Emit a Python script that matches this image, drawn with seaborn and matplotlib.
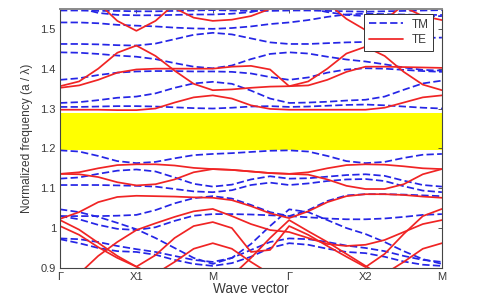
import matplotlib
matplotlib.use("Agg")
import matplotlib.pyplot as plt
import seaborn as sns
import pandas as pd

# ---------------- data ----------------
k_pts = [0, 0.25, 0.5, 0.75, 1, 1.25, 1.5, 1.75, 2, 2.25, 2.5, 2.75,
         3, 3.25, 3.5, 3.75, 4, 4.25, 4.5, 4.75, 5]
tick_pos = [0, 1, 2, 3, 4, 5]
tick_labels = ["Γ", "X1", "M", "Γ", "X2", "M"]
y_ticks = [0.9, 1.0, 1.1, 1.2, 1.3, 1.4, 1.5]
y_tick_labels = ["0.9", "1", "1.1", "1.2", "1.3", "1.4", "1.5"]
gap_lo, gap_hi = 1.197, 1.29

tm01 = [1.546,1.546,1.545,1.545,1.544,1.544,1.545,1.546,1.547,1.546,1.545,1.545,1.546,1.546,1.545,1.544,1.543,1.544,1.545,1.546,1.547]
tm02 = [1.516,1.516,1.514,1.510,1.508,1.506,1.503,1.501,1.500,1.502,1.506,1.512,1.516,1.522,1.530,1.536,1.538,1.537,1.536,1.535,1.535]
tm03 = [1.562,1.552,1.540,1.535,1.534,1.534,1.535,1.536,1.536,1.538,1.542,1.552,1.562,1.552,1.542,1.535,1.532,1.531,1.530,1.531,1.532]
tm04 = [1.462,1.462,1.461,1.459,1.458,1.463,1.474,1.485,1.490,1.486,1.476,1.466,1.462,1.462,1.464,1.466,1.467,1.470,1.474,1.477,1.478]
tm05 = [1.441,1.440,1.437,1.433,1.430,1.424,1.414,1.405,1.401,1.408,1.424,1.437,1.441,1.438,1.430,1.423,1.418,1.411,1.403,1.397,1.395]
tm06 = [1.372,1.376,1.384,1.390,1.393,1.394,1.394,1.393,1.393,1.392,1.388,1.379,1.372,1.378,1.390,1.398,1.401,1.400,1.397,1.394,1.392]
tm07 = [1.314,1.316,1.321,1.327,1.330,1.338,1.352,1.363,1.367,1.362,1.345,1.325,1.314,1.315,1.317,1.320,1.322,1.330,1.347,1.363,1.370]
tm08 = [1.304,1.304,1.305,1.306,1.306,1.305,1.303,1.301,1.300,1.302,1.305,1.306,1.304,1.305,1.307,1.309,1.310,1.308,1.305,1.302,1.300]
tm09 = [1.195,1.192,1.181,1.168,1.163,1.166,1.175,1.183,1.186,1.188,1.191,1.194,1.195,1.192,1.181,1.168,1.163,1.166,1.176,1.184,1.186]
tm10 = [1.124,1.127,1.136,1.144,1.147,1.142,1.127,1.111,1.104,1.109,1.122,1.130,1.124,1.125,1.129,1.133,1.135,1.131,1.119,1.108,1.104]
tm11 = [1.108,1.108,1.108,1.107,1.106,1.104,1.098,1.092,1.090,1.095,1.108,1.114,1.108,1.112,1.118,1.122,1.123,1.118,1.105,1.094,1.090]
tm12 = [1.047,1.040,1.028,1.013,0.997,0.975,0.950,0.925,0.910,0.925,0.960,1.005,1.047,1.040,1.020,1.000,0.985,0.965,0.942,0.922,0.910]
tm13 = [1.030,1.030,1.030,1.031,1.033,1.045,1.062,1.075,1.080,1.074,1.058,1.040,1.030,1.045,1.068,1.082,1.085,1.085,1.084,1.082,1.080]
tm14 = [1.030,1.022,1.008,0.998,0.995,1.002,1.018,1.031,1.035,1.035,1.034,1.032,1.030,1.027,1.024,1.022,1.022,1.024,1.028,1.033,1.035]
tm15 = [0.974,0.972,0.965,0.955,0.947,0.940,0.930,0.920,0.915,0.925,0.945,0.965,0.974,0.972,0.965,0.956,0.950,0.942,0.930,0.920,0.915]
tm16 = [0.972,0.962,0.950,0.942,0.940,0.933,0.920,0.910,0.905,0.912,0.928,0.950,0.962,0.958,0.948,0.940,0.937,0.928,0.916,0.908,0.905]

te01 = [1.620,1.600,1.565,1.520,1.495,1.520,1.562,1.585,1.595,1.600,1.610,1.615,1.620,1.600,1.565,1.525,1.497,1.522,1.560,1.585,1.595]
te02 = [1.620,1.620,1.618,1.610,1.600,1.580,1.552,1.528,1.520,1.523,1.532,1.550,1.570,1.600,1.618,1.610,1.600,1.582,1.555,1.532,1.522]
te03 = [1.356,1.368,1.400,1.440,1.458,1.432,1.395,1.362,1.346,1.348,1.352,1.355,1.356,1.368,1.400,1.438,1.455,1.432,1.392,1.360,1.346]
te04 = [1.352,1.358,1.372,1.390,1.398,1.400,1.400,1.400,1.400,1.405,1.407,1.398,1.356,1.358,1.372,1.392,1.405,1.405,1.404,1.403,1.402]
te05 = [1.297,1.297,1.297,1.296,1.296,1.300,1.315,1.328,1.333,1.325,1.308,1.299,1.297,1.297,1.297,1.297,1.297,1.302,1.315,1.328,1.333]
te06 = [1.136,1.140,1.150,1.158,1.160,1.160,1.157,1.151,1.148,1.146,1.142,1.138,1.136,1.140,1.150,1.158,1.160,1.159,1.155,1.150,1.148]
te07 = [1.136,1.135,1.128,1.115,1.107,1.110,1.122,1.140,1.148,1.146,1.142,1.138,1.136,1.134,1.122,1.106,1.098,1.098,1.110,1.135,1.148]
te08 = [1.023,1.040,1.065,1.078,1.081,1.080,1.079,1.077,1.076,1.070,1.055,1.037,1.025,1.042,1.065,1.080,1.085,1.085,1.083,1.079,1.076]
te09 = [1.020,0.996,0.963,0.930,0.903,0.880,0.860,0.850,0.845,0.880,0.925,0.975,1.020,0.992,0.965,0.935,0.905,0.875,0.860,0.850,0.845]
te10 = [1.005,0.983,0.952,0.925,0.903,0.932,0.975,1.005,1.015,1.000,0.940,0.945,1.005,0.983,0.955,0.928,0.902,0.935,0.985,1.030,1.048]
te11 = [0.800,0.810,0.830,0.850,0.870,0.885,0.915,0.948,0.962,0.948,0.915,0.885,0.870,0.860,0.855,0.860,0.870,0.885,0.915,0.948,0.962]
te12 = [0.850,0.885,0.930,0.965,0.995,1.012,1.028,1.042,1.048,1.030,1.010,0.995,0.990,0.975,0.960,0.955,0.958,0.970,0.990,1.010,1.020]

tm_bands = [tm01, tm02, tm03, tm04, tm05, tm06, tm07, tm08,
            tm09, tm10, tm11, tm12, tm13, tm14, tm15, tm16]
te_bands = [te01, te02, te03, te04, te05, te06, te07, te08,
            te09, te10, te11, te12]

rows = []
for pol, bands in (("TM", tm_bands), ("TE", te_bands)):
    for i, band in enumerate(bands):
        for k, f in zip(k_pts, band):
            rows.append({"k": k, "freq": f, "pol": pol, "band": f"{pol}{i}"})
df = pd.DataFrame(rows)

# ---------------- plot ----------------
sns.set_style("white")
plt.rcParams["font.family"] = ["Liberation Sans", "DejaVu Sans"]

fig = plt.figure(figsize=(4.84, 2.97), dpi=100)
ax = fig.add_axes([0.124, 0.098, 0.789, 0.872])

ax.axhspan(gap_lo, gap_hi, color="#ffff00", zorder=0, lw=0)

sns.lineplot(data=df, x="k", y="freq", hue="pol", style="pol", units="band",
             estimator=None, sort=False, hue_order=["TM", "TE"],
             style_order=["TM", "TE"],
             palette={"TM": "#2525e6", "TE": "#f02424"},
             dashes={"TM": (4.2, 1.9), "TE": ""}, linewidth=1.25, ax=ax)

ax.set_xlim(0, 5)
ax.set_ylim(0.9, 1.55)
ax.set_xticks(tick_pos)
ax.set_xticklabels(tick_labels)
ax.set_yticks(y_ticks)
ax.set_yticklabels(y_tick_labels)
ax.tick_params(direction="in", length=3, width=0.6, top=True, right=True,
               labelsize=8, colors="#3a3a3a", pad=3)
for s in ax.spines.values():
    s.set_color("#444444")
    s.set_linewidth(0.8)
ax.spines["top"].set_color("#8a8a8a")
ax.spines["top"].set_linewidth(1.4)

ax.set_xlabel("Wave vector", fontsize=9.8, color="#3a3a3a", labelpad=0)
ax.set_ylabel("Normalized frequency (a / λ)", fontsize=8.6, color="#3a3a3a",
              labelpad=5)

leg = ax.legend(loc="upper right", bbox_to_anchor=(0.977, 0.981),
                borderaxespad=0, fontsize=8.5, frameon=True, fancybox=False,
                handlelength=2.9, borderpad=0.4, labelspacing=0.3,
                handletextpad=0.7)
leg.get_frame().set_edgecolor("#333333")
leg.get_frame().set_linewidth(0.7)
leg.get_frame().set_alpha(1)
for t in leg.get_texts():
    t.set_color("#3a3a3a")
leg.set_title(None)

fig.savefig("out.png", dpi=100, facecolor="white")
